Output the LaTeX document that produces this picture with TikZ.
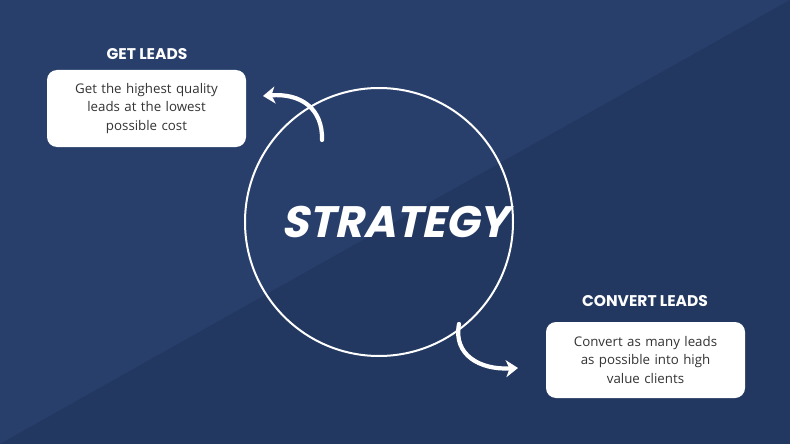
\documentclass[tikz,border=0pt]{standalone}
\usepackage{fontspec}
\setmainfont{Open Sans}
\newfontfamily\pop{Poppins}
\newfontfamily\popsl{Poppins}[FakeSlant=0.22]
\usetikzlibrary{arrows.meta}
\definecolor{bgA}{HTML}{283F6C}
\definecolor{bgB}{HTML}{223861}
\definecolor{txt}{HTML}{333333}
\begin{document}
\begin{tikzpicture}[x=1pt,y=-1pt,
  box/.style={fill=white,rounded corners=10pt,draw=none},
  body/.style={text=txt,font=\fontsize{13.3}{18.5}\selectfont,align=center,text width=190pt},
  head/.style={text=white,font=\pop\bfseries\fontsize{15.5}{17}\selectfont},
  curv/.style={white,line width=4.2pt,line cap=round,-{Stealth[length=12pt,width=17pt,inset=3.5pt]}}]
\useasboundingbox (0,0) rectangle (790,444);
\fill[bgA] (0,0) rectangle (790,444);
\fill[bgB] (0,444) -- (790,0) -- (790,444) -- cycle;
\node[draw=white,line width=2pt,circle,minimum size=268pt] (c) at (379,222) {};
\node[text=white,font=\popsl\bfseries\fontsize{44}{50}\selectfont] (s) at (395,222) {STRATEGY};
\node[box,minimum width=199pt,minimum height=77pt] (b1) at (146.5,108.5) {};
\node[body] (t1) at (b1) {Get the highest quality\\leads at the lowest\\possible cost};
\node[head] (h1) at (147,54) {GET LEADS};
\node[box,minimum width=199pt,minimum height=76pt] (b2) at (645.5,360) {};
\node[body] (t2) at (b2) {Convert as many leads\\as possible into high\\value clients};
\node[head] (h2) at (645,301) {CONVERT LEADS};
\coordinate (a1s) at (322,140);
\coordinate (a1e) at (263,96);
\coordinate (a2s) at (459,324);
\coordinate (a2e) at (518,368);
\draw[curv] (a1s) .. controls (323,108) and (300,93) .. (a1e);
\draw[curv] (a2s) .. controls (453,355) and (480,370) .. (a2e);
\end{tikzpicture}
\end{document}
